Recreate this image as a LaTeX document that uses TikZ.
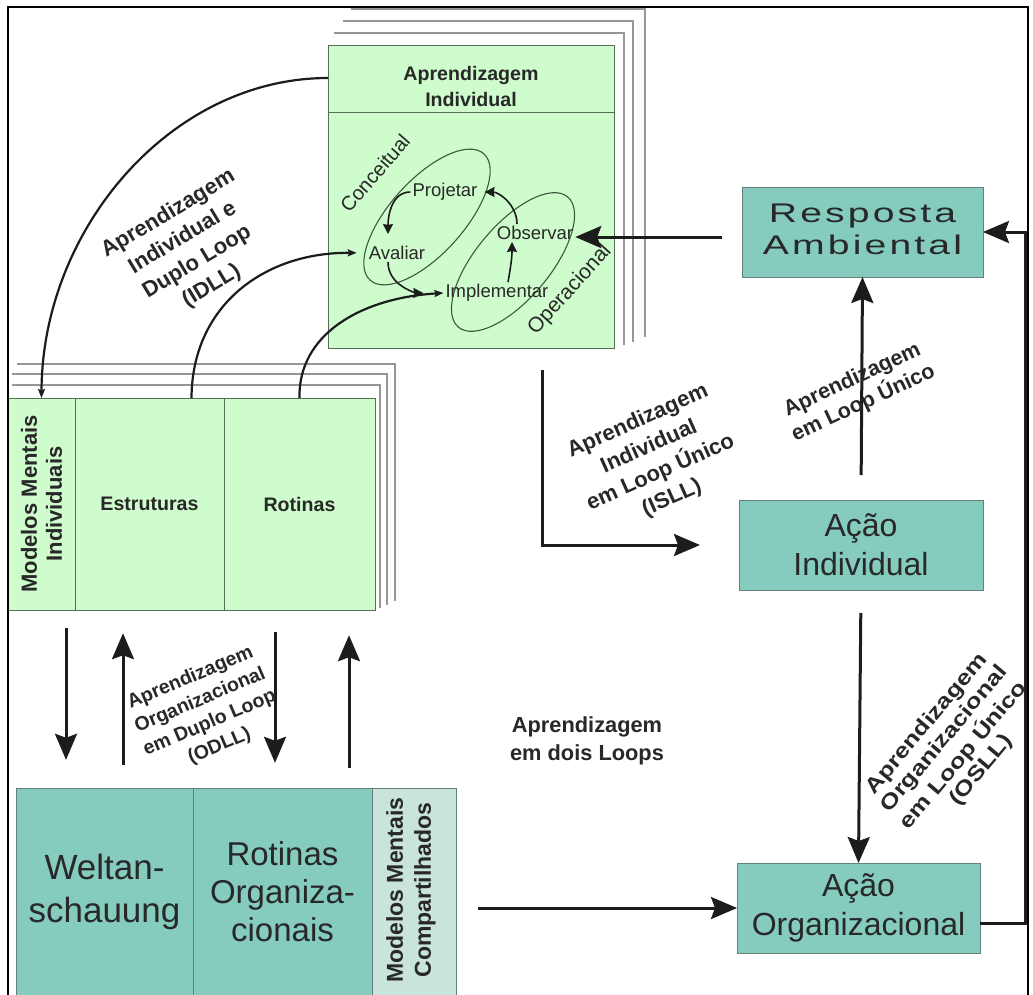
\documentclass[tikz,border=0pt]{standalone}
\usepackage{fontspec}
\setmainfont{Liberation Sans}
\newfontfamily\wideSans[LetterSpace=8]{Liberation Sans}
\usetikzlibrary{arrows.meta,calc}
\definecolor{lgreen}{RGB}{206,252,204}
\definecolor{gbord}{RGB}{85,110,85}
\definecolor{tealc}{RGB}{133,204,191}
\definecolor{lteal}{RGB}{200,228,220}
\definecolor{tbord}{RGB}{100,128,122}
\definecolor{stackc}{RGB}{150,150,150}
\definecolor{arrc}{RGB}{28,28,28}
\definecolor{txtc}{RGB}{40,40,40}
\definecolor{ellcol}{RGB}{60,90,60}
\begin{document}
\begin{tikzpicture}[x=1pt,y=-1pt,
  gbox/.style={draw=gbord, fill=lgreen, line width=0.9pt, inner sep=0pt, outer sep=0pt},
  tbox/.style={draw=tbord, fill=tealc, line width=0.9pt, inner sep=0pt, outer sep=0pt, text=txtc, align=center},
  stackln/.style={draw=stackc, line width=1.8pt},
  big/.style={draw=arrc, line width=3pt, -{Stealth[length=26pt,width=22pt,inset=4pt]}},
  arcln/.style={draw=arrc, line width=2.2pt, -{Stealth[length=9pt,width=7pt,inset=1.5pt]}},
  small/.style={draw=arrc, line width=1.6pt, -{Stealth[length=10pt,width=10pt,inset=1pt]}},
  lbl/.style={align=center, text=txtc, inner sep=0pt},
  loopt/.style={text=txtc, inner sep=2pt, font=\fontsize{18.5}{22}\selectfont},
  ellc/.style={draw=ellcol, line width=1.1pt}
]
\useasboundingbox (0,0) rectangle (1033,994);
\fill[white] (0,0) rectangle (1033,994);

% stacked sheets behind the individual learning box
\draw[stackln] (351,9) -- (645,9) -- (645,337);
\draw[stackln] (343,21) -- (633,21) -- (633,342);
\draw[stackln] (334,33) -- (624,33) -- (624,345);
% stacked sheets behind the individual mental models box
\draw[stackln] (17,364) -- (395,364) -- (395,601);
\draw[stackln] (12,374) -- (387,374) -- (387,605);
\draw[stackln] (12,385) -- (380,385) -- (380,608);

% individual learning box
\node[gbox, minimum width=286pt, minimum height=303pt] (ai) at (471,196.5) {};
\coordinate (hdr) at (0,112);
\draw[draw=gbord, line width=0.9pt] (ai.west |- hdr) -- (ai.east |- hdr);
\node[lbl, font=\bfseries\fontsize{19.6}{26}\selectfont] (ait) at (471,86) {Aprendizagem\\Individual};

% ellipses
\draw[ellc, rotate around={48:(427,217)}] (427,217) ellipse [x radius=85, y radius=37];
\draw[ellc, rotate around={50:(513,262)}] (513,262) ellipse [x radius=85, y radius=37];
\node[lbl, rotate=49, font=\fontsize{20}{24}\selectfont] (conc) at (375,173) {Conceitual};
\node[lbl, rotate=48, font=\fontsize{21}{24}\selectfont] (oper) at (570,290) {Operacional};

\node[loopt] (proj) at (445,192) {Projetar};
\node[loopt] (aval) at (397,253) {Avaliar};
\node[loopt] (obs) at (535,233) {Observar};
\node[loopt] (impl) at (497,293) {Implementar};

\draw[small] (proj.west) to[out=180,in=90] ([shift={(-9,-10)}]aval.north);
\draw[small, shorten >=20pt] ([xshift=-9pt]aval.south) to[out=270,in=180] (impl.west);
\draw[small] ([xshift=11pt]impl.north) to[out=80,in=270] ([xshift=-23pt]obs.south);
\draw[small, shorten >=5pt] ([xshift=-18pt]obs.north) to[out=90,in=0] (proj.east);

% individual mental models box
\node[minimum width=367pt, minimum height=212pt, inner sep=0pt] (indbox) at (191.5,504) {};
\node[gbox, minimum width=67pt, minimum height=212pt] (mmi) at (41.5,504) {};
\node[gbox, minimum width=149pt, minimum height=212pt] (est) at (149.5,504) {};
\node[gbox, minimum width=151pt, minimum height=212pt] (rot) at (299.5,504) {};
\node[lbl, rotate=90, font=\bfseries\fontsize{22}{25}\selectfont] (mmit) at (mmi.center) {Modelos Mentais\\Individuais};
\node[lbl, font=\bfseries\fontsize{19.6}{24}\selectfont] (estt) at (est.center) {Estruturas};
\node[lbl, font=\bfseries\fontsize{19.6}{24}\selectfont] (rott) at (rot.center) {Rotinas};

% organisational box
\node[minimum width=440pt, minimum height=208pt, inner sep=0pt] (orgbox) at (236,892) {};
\node[tbox, minimum width=177pt, minimum height=208pt] (welt) at (104.5,892) {};
\node[tbox, minimum width=179pt, minimum height=208pt] (rorg) at (282.5,892) {};
\node[tbox, fill=lteal, minimum width=84pt, minimum height=208pt] (mmc) at (414,892) {};
\node[lbl, font=\fontsize{35}{43}\selectfont] (weltt) at (welt.center) {Weltan-\\schauung};
\node[lbl, font=\fontsize{33}{38}\selectfont] (rorgt) at (rorg.center) {Rotinas\\Organiza-\\cionais};
\node[lbl, rotate=90, font=\bfseries\fontsize{23}{28}\selectfont] (mmct) at (411,890) {Modelos Mentais\\Compartilhados};

% right column boxes
\node[tbox, minimum width=241pt, minimum height=90pt] (ra) at (862.5,232)
  {\scalebox{1.45}[1]{\wideSans\fontsize{27}{32}\selectfont\begin{tabular}{@{}c@{}}Resposta\\Ambiental\end{tabular}}};
\node[tbox, minimum width=244pt, minimum height=90pt, font=\fontsize{32}{39}\selectfont] (aind) at (861,545) {Ação\\Individual};
\node[tbox, minimum width=243pt, minimum height=90pt, font=\fontsize{32}{39}\selectfont] (ao) at (858.5,908) {Ação\\Organizacional};

% curved connectors
\coordinate (idlls) at (328,78);
\draw[arcln] (idlls) .. controls (170,78) and (42,230) .. (mmi.north);
\draw[arcln, shorten >=10pt] ([xshift=42pt]est.north) .. controls (192,305) and (265,252) .. (aval.west);
\draw[arcln] (rot.north) .. controls (298,335) and (360,298) .. (impl.west);

% straight connectors
\draw[big, shorten <=20pt] ([yshift=-5pt]ra.west) -- ([yshift=-5pt]ra.west -| obs.east);
\draw[big, shorten <=25pt] (aind.north) -- (ra.south);
\draw[big, shorten <=23pt] (aind.south) -- (ao.north);
\coordinate (rl) at (1025,600);
\draw[big, line join=miter] ([yshift=-15pt]ao.east) -| (rl) |- (ra.east);
\coordinate (islls) at (542,370);
\draw[big, line join=miter, shorten >=39pt] (islls) |- (aind.west);
\draw[big, shorten <=22pt] (mmc.east |- ao.west) -- (ao.west);

\coordinate (d1) at (66,0);
\coordinate (u1) at (123,0);
\coordinate (d2) at (275,0);
\coordinate (u2) at (349,0);
\draw[big, shorten <=18pt, shorten >=28pt] (indbox.south -| d1) -- (orgbox.north -| d1);
\draw[big, shorten <=23pt, shorten >=23pt] (orgbox.north -| u1) -- (indbox.south -| u1);
\draw[big, shorten <=22pt, shorten >=25pt] (indbox.south -| d2) -- (orgbox.north -| d2);
\draw[big, shorten <=20pt, shorten >=25pt] (orgbox.north -| u2) -- (indbox.south -| u2);

% labels
\node[lbl, rotate=31, font=\bfseries\fontsize{22}{28}\selectfont] (lidll) at (190,250) {Aprendizagem\\Individual e\\Duplo Loop\\(IDLL)};
\node[lbl, rotate=23, font=\bfseries\fontsize{19.5}{24.7}\selectfont] (lodll) at (205,712) {Aprendizagem\\Organizacional\\em Duplo Loop\\(ODLL)};
\node[lbl, rotate=24, font=\bfseries\fontsize{22}{28}\selectfont] (lisll) at (655,460) {Aprendizagem\\Individual\\em Loop Único\\(ISLL)};
\node[lbl, rotate=25, font=\bfseries\fontsize{21.5}{26}\selectfont] (lslu) at (858,392) {Aprendizagem\\em Loop Único};
\node[lbl, rotate=50, font=\bfseries\fontsize{21}{23}\selectfont] (losll) at (955,748)
  {\scalebox{1.22}[1]{\begin{tabular}{@{}c@{}}Aprendizagem\\Organizacional\\em Loop Único\\(OSLL)\end{tabular}}};
\node[lbl, font=\bfseries\fontsize{21.8}{28}\selectfont] (ldois) at (587,741) {Aprendizagem\\em dois Loops};

% frame
\draw[black, line width=1.4pt] (8,996) -- (8,7) -- (1028,7) -- (1028,996);
\end{tikzpicture}
\end{document}
